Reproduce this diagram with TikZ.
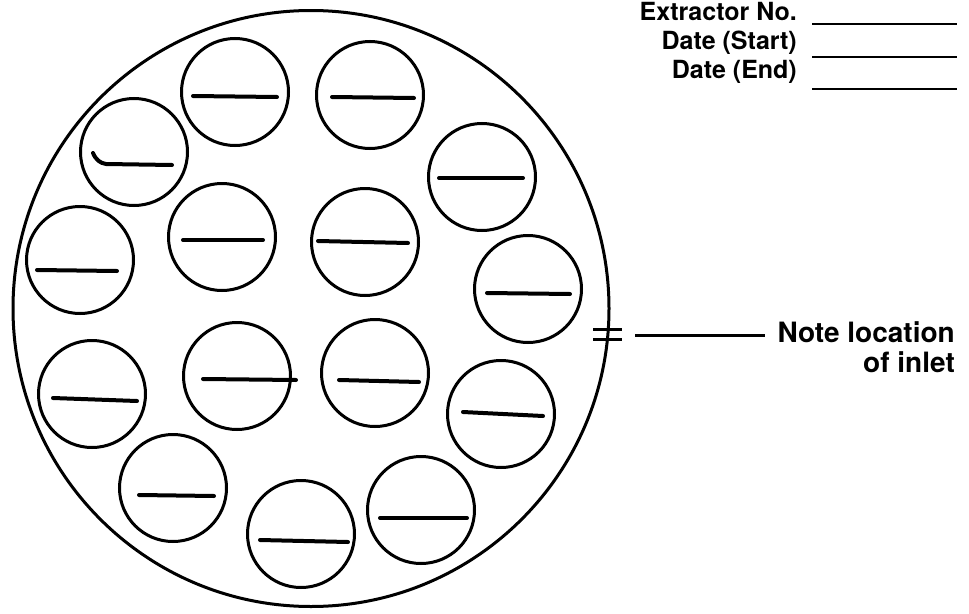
\documentclass[tikz,border=0pt]{standalone}
\usepackage{fontspec}
\setmainfont{TeX Gyre Heros}
\begin{document}
\begin{tikzpicture}[x=1pt,y=-1pt,
  cup/.style={circle, draw, line width=3pt, minimum size=107pt, inner sep=0pt},
  bar/.style={line width=4pt, line cap=round},
  hdr/.style={font=\fontsize{25}{28}\bfseries\selectfont, inner sep=0pt, anchor=base east},
  lbl/.style={font=\fontsize{28}{30}\bfseries\selectfont, inner sep=0pt, anchor=base east},
  blank/.style={line width=2.5pt}]
\useasboundingbox[fill=white] (0,0) rectangle (969,613);
% tray
\node[circle, draw, line width=3pt, minimum size=596pt, inner sep=0pt] (tray) at (311,308.5) {};
% cups
\node[cup] (c1) at (235,92) {};
\node[cup] (c2) at (370,95) {};
\node[cup] (c3) at (134,152) {};
\node[cup] (c4) at (482,177) {};
\node[cup] (c5) at (80,260) {};
\node[cup] (c6) at (222,237) {};
\node[cup] (c7) at (365,242) {};
\node[cup] (c8) at (528,289) {};
\node[cup] (c9) at (92,394) {};
\node[cup] (c10) at (237,376) {};
\node[cup] (c11) at (375,373) {};
\node[cup] (c12) at (501,414) {};
\node[cup] (c13) at (173,488) {};
\node[cup] (c14) at (301,534) {};
\node[cup] (c15) at (421,510) {};
% blanks inside cups
\draw[bar] (193,96) -- (277,97);
\draw[bar] (332,97) -- (414,98);
\draw[bar] (93,153) .. controls (96,160) and (100,163) .. (106,164) -- (172,165);
\draw[bar] (439,178) -- (523,178);
\draw[bar] (37,270) -- (117,271);
\draw[bar] (183,240) -- (263,240);
\draw[bar] (318,241) -- (408,243);
\draw[bar] (487,293) -- (570,294);
\draw[bar] (53,398) -- (137,401);
\draw[bar] (203,379) -- (296,380);
\draw[bar] (339,380) -- (419,382);
\draw[bar] (463,412) -- (543,416);
\draw[bar] (139,495) -- (214,496);
\draw[bar] (260,540) -- (348,542);
\draw[bar] (380,518) -- (467,518);
% header
\node[hdr] (ext) at (797,20) {Extractor No.};
\node[hdr] (ds) at (797,49) {Date (Start)};
\node[hdr] (de) at (797,78) {Date (End)};
\draw[blank] (812,24) -- (957,24);
\draw[blank] (812,57) -- (957,57);
\draw[blank] (812,89) -- (957,89);
% inlet
\draw[line width=3pt] (593,329) -- (622,329);
\draw[line width=3pt] (593,339) -- (622,339);
\node[lbl] (note1) at (955,342) {Note location};
\node[lbl] (note2) at (955,372) {of inlet};
\coordinate (lead) at (635,335);
\coordinate (leadend) at (765,335);
\draw[line width=3pt] (lead) -- (leadend);
\end{tikzpicture}
\end{document}
